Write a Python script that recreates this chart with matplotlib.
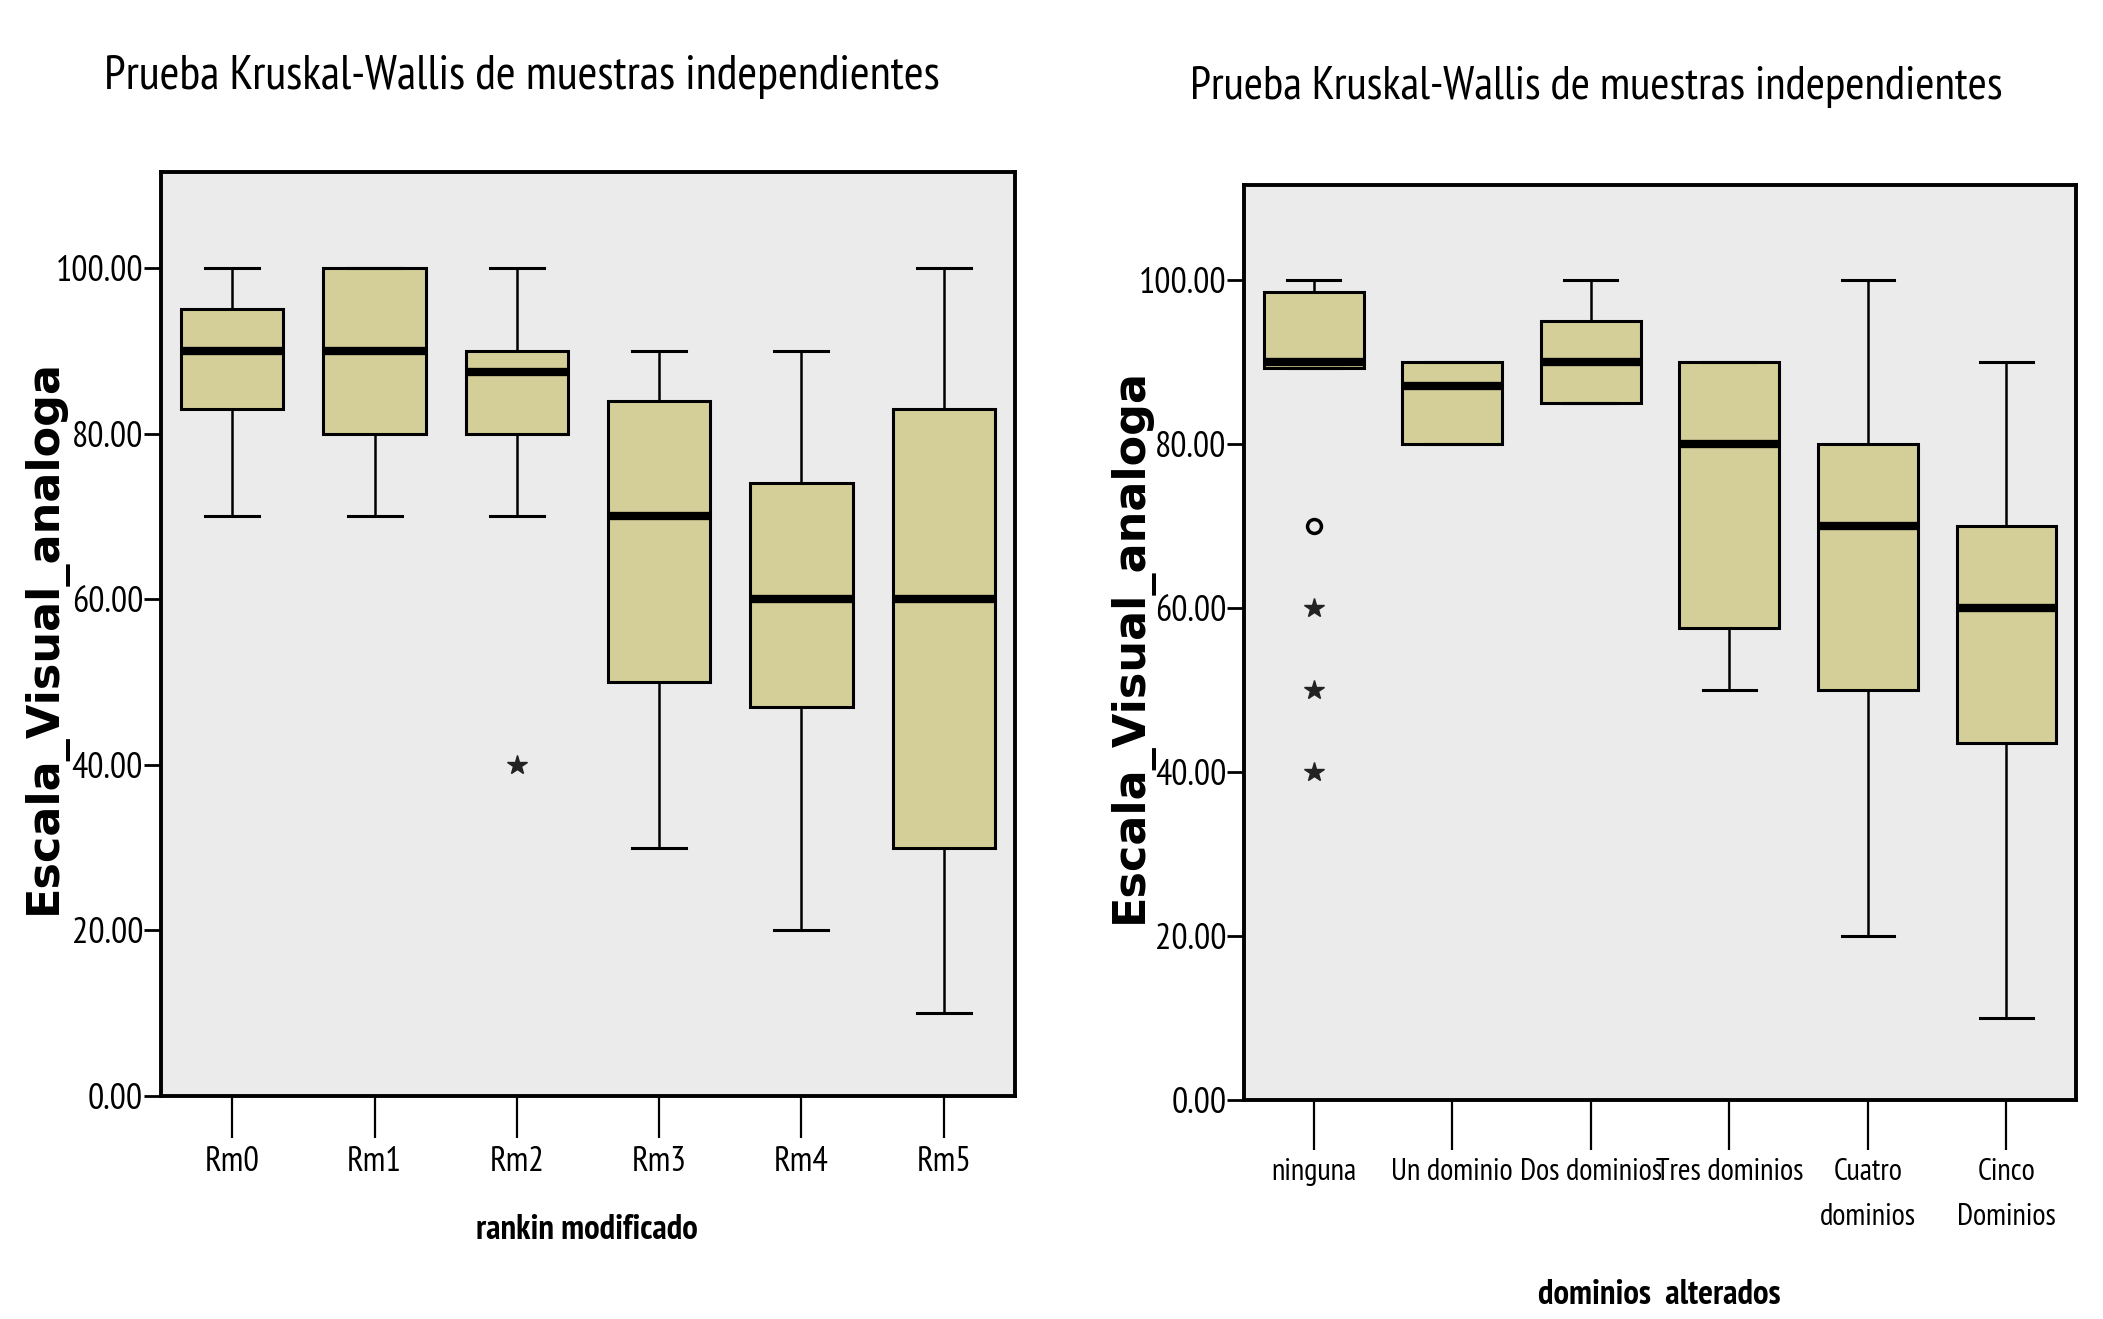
import matplotlib
matplotlib.use("Agg")
import matplotlib.pyplot as plt

# ---------------- data ----------------
left_cats = ["Rm0", "Rm1", "Rm2", "Rm3", "Rm4", "Rm5"]
left_whislo = [70, 70, 70, 30, 20, 10]
left_q1 = [83, 80, 80, 50, 47, 30]
left_med = [90, 90, 87.5, 70, 60, 60]
left_q3 = [95, 100, 90, 84, 74, 83]
left_whishi = [100, 100, 100, 90, 90, 100]
left_out_circle = [[], [], [], [], [], []]
left_out_star = [[], [], [40], [], [], []]

right_cats = ["ninguna", "Un dominio", "Dos dominios", "Tres dominios",
              "Cuatro\ndominios", "Cinco\nDominios"]
right_whislo = [89.3, 80, 85, 50, 20, 10]
right_q1 = [89.3, 80, 85, 57.5, 50, 43.5]
right_med = [90, 87, 90, 80, 70, 60]
right_q3 = [98.5, 90, 95, 90, 80, 70]
right_whishi = [100, 90, 100, 90, 100, 90]
right_out_circle = [[70], [], [], [], [], []]
right_out_star = [[60, 50, 40], [], [], [], [], []]

yticks = [0, 20, 40, 60, 80, 100]
title = "Prueba Kruskal-Wallis de muestras independientes"
ylab = "Escala_Visual_analoga"

# ---------------- style ----------------
NARROW = ["PT Sans Narrow", "Archivo Narrow", "Liberation Sans", "DejaVu Sans"]
BOLDF = ["DejaVu Sans"]
BOX_FILL = "#D4CF98"
AX_BG = "#EBEBEB"

fig = plt.figure(figsize=(21.03, 13.19), dpi=100)
fig.patch.set_facecolor("white")

ax1 = fig.add_axes([0.0766, 0.169, 0.406, 0.7006])
ax2 = fig.add_axes([0.5917, 0.166, 0.3953, 0.694])


def draw(ax, cats, wlo, q1, med, q3, whi, outc, outs, xlabel, xl_y, tick_len,
         xt_size):
    stats = []
    for i, c in enumerate(cats):
        stats.append(dict(label=c, whislo=wlo[i], q1=q1[i], med=med[i],
                          q3=q3[i], whishi=whi[i], fliers=[]))
    pos = list(range(len(cats)))
    ax.bxp(stats, positions=pos, widths=0.72, patch_artist=True,
           showfliers=False,
           boxprops=dict(facecolor=BOX_FILL, edgecolor="black", linewidth=2.2),
           medianprops=dict(color="black", linewidth=6.0, solid_capstyle="butt"),
           whiskerprops=dict(color="black", linewidth=1.8),
           capprops=dict(color="black", linewidth=2.2),
           capwidths=0.38)
    for i in pos:
        if outc[i]:
            ax.plot([i] * len(outc[i]), outc[i], linestyle="none", marker="o",
                    markersize=10, markerfacecolor="none",
                    markeredgecolor="black", markeredgewidth=2.5)
        if outs[i]:
            ax.plot([i] * len(outs[i]), outs[i], linestyle="none", marker="*",
                    markersize=15, color="#222222")
    ax.set_facecolor(AX_BG)
    ax.set_xlim(-0.5, len(cats) - 0.5)
    ax.set_ylim(0, 111.6)
    ax.set_yticks(yticks)
    ax.set_yticklabels([f"{v:.2f}" for v in yticks], family=NARROW,
                       fontsize=26)
    ax.set_xticks(pos)
    ax.set_xticklabels(cats, family=NARROW, fontsize=xt_size,
                       linespacing=1.75)
    ax.tick_params(axis="y", direction="out", length=12, width=2.0, pad=1)
    ax.tick_params(axis="x", direction="out", length=tick_len, width=1.6,
                   pad=6)
    for s in ax.spines.values():
        s.set_linewidth(2.8)
        s.set_color("black")
    ax.set_xlabel(xlabel, family=NARROW, fontsize=25, fontweight="bold")
    ax.xaxis.set_label_coords(0.499, xl_y)
    ax.set_ylabel(ylab, family=BOLDF, fontsize=32, fontweight="bold")
    ax.yaxis.set_label_coords(-0.11, 0.497)


draw(ax1, left_cats, left_whislo, left_q1, left_med, left_q3, left_whishi,
     left_out_circle, left_out_star, "rankin modificado", -0.128, 30, 25)
draw(ax2, right_cats, right_whislo, right_q1, right_med, right_q3,
     right_whishi, right_out_circle, right_out_star, "dominios  alterados",
     -0.195, 36, 22)

fig.text(0.248, 0.942, title, family=NARROW, fontsize=34.5,
         ha="center", va="center")
fig.text(0.759, 0.934, title, family=NARROW, fontsize=33.5,
         ha="center", va="center")

fig.savefig("out.png", dpi=100, facecolor="white")
